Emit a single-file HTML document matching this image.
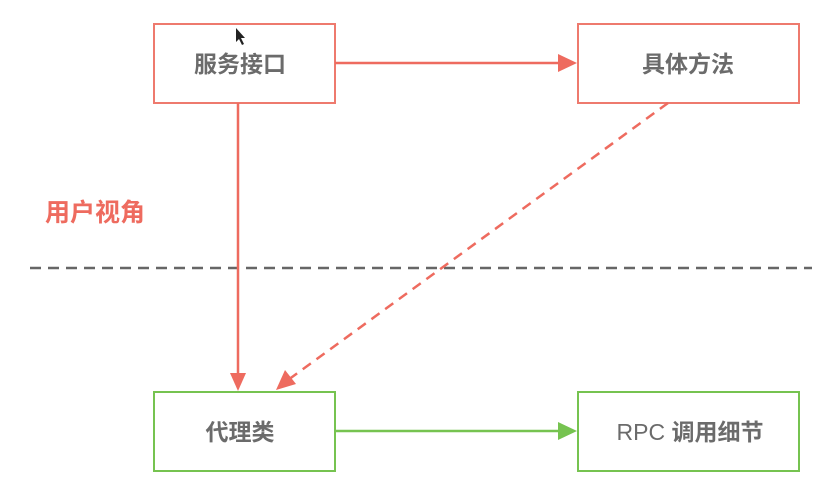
<!DOCTYPE html>
<html><head><meta charset="utf-8"><style>
body{margin:0;background:#fff;width:819px;height:477px;overflow:hidden}
svg text{font-family:"Liberation Sans","Noto Sans CJK SC",sans-serif}
</style></head><body>
<svg width="819" height="477" viewBox="0 0 819 477">
<line x1="30" y1="268" x2="812" y2="268" stroke="#666" stroke-width="2.5" stroke-dasharray="11,7"/>
<rect x="154" y="24" width="181" height="79" fill="#fff" stroke="#ee7a6e" stroke-width="2"/>
<rect x="578" y="24" width="221" height="79" fill="#fff" stroke="#ee7a6e" stroke-width="2"/>
<rect x="154" y="392" width="181" height="79" fill="#fff" stroke="#76c350" stroke-width="2"/>
<rect x="578" y="392" width="221" height="79" fill="#fff" stroke="#76c350" stroke-width="2"/>
<line x1="335" y1="63" x2="560" y2="63" stroke="#ee6b5f" stroke-width="2.5"/>
<path d="M558,54L577,63L558,72z" fill="#ee6b5f"/>
<line x1="238" y1="103" x2="238" y2="375" stroke="#ee6b5f" stroke-width="2.5"/>
<path d="M230,373L238,391L246,373z" fill="#ee6b5f"/>
<line x1="668" y1="103" x2="288" y2="380" stroke="#ee6b5f" stroke-width="2.5" stroke-dasharray="10,7"/>
<path d="M276,390L285,370L296,384z" fill="#ee6b5f"/>
<line x1="335" y1="431" x2="560" y2="431" stroke="#76c350" stroke-width="2.5"/>
<path d="M558,422L577,431L558,440z" fill="#76c350"/>
<g font-size="23" font-weight="bold" fill="#6b6b6b" text-anchor="middle">
<text x="240" y="72">服务接口</text>
<text x="688" y="72">具体方法</text>
<text x="240" y="440">代理类</text>
<text x="690" y="440" font-weight="normal">RPC <tspan font-weight="bold">调用细节</tspan></text>
</g>
<text x="45" y="221" font-size="25" font-weight="bold" fill="#ee6b5f">用户视角</text>
<path d="M236,28L236,42L239,39L242,45L244,44L241,38L245,38z" fill="#222"/>
</svg>
</body></html>
